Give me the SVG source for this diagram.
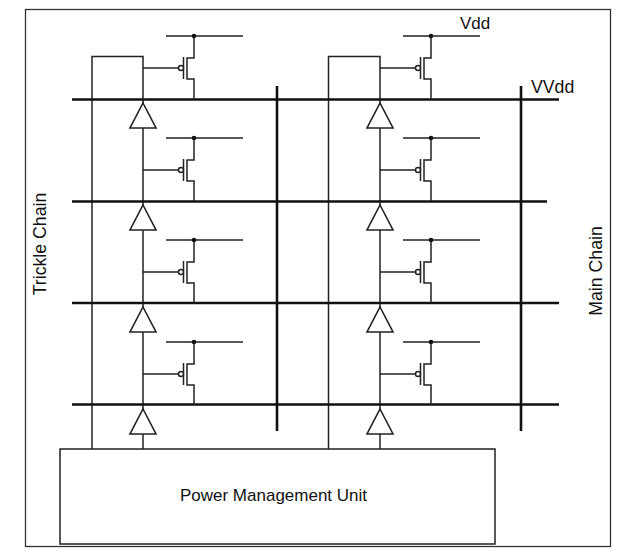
<svg xmlns="http://www.w3.org/2000/svg" xmlns:xlink="http://www.w3.org/1999/xlink" width="621" height="557" viewBox="0 0 621 557">
<style>
text{font-family:"Liberation Sans",Arial,sans-serif;font-size:17px;fill:#111}
.side{font-size:17.700px}
.t{fill:none;stroke:#222;stroke-width:1.5}
.r{fill:none;stroke:#111;stroke-width:2.6}
.b{fill:#fff;stroke:#222;stroke-width:1.6}
</style>
<defs>
<g id="pmos">
<path class="t" d="M166 36H243M194 36V58H187V79H194V99M183.500 57V79"/>
<circle cx="194" cy="36" r="2.300" fill="#111"/>
<circle cx="181" cy="68" r="2.500" fill="#fff" stroke="#222" stroke-width="1.500"/>
<path class="t" d="M143 68H178.500"/>
</g>
<path id="buf" class="b" d="M143 103L156 128H130Z"/>
</defs>
<rect id="frame" x="25.500" y="9.500" width="585" height="537" fill="#fff" stroke="#333" stroke-width="1.300"/>
<g id="connectors">
<path class="t" d="M92 449V56.500H143V449M328.500 449V56.500H380V449"/>
<path class="r" d="M72 99.500H559M72 201.500H547M72 303H559M72 404.500H559M277 86V431M521 86V431"/>
</g>
<g id="trickle-transistors">
<use href="#pmos"/>
<use href="#pmos" y="102"/>
<use href="#pmos" y="204"/>
<use href="#pmos" y="306"/>
</g>
<g id="main-transistors">
<use href="#pmos" x="237"/>
<use href="#pmos" x="237" y="102"/>
<use href="#pmos" x="237" y="204"/>
<use href="#pmos" x="237" y="306"/>
</g>
<g id="trickle-buffers">
<use href="#buf"/>
<use href="#buf" y="102"/>
<use href="#buf" y="204"/>
<use href="#buf" y="306"/>
</g>
<g id="main-buffers">
<use href="#buf" x="237"/>
<use href="#buf" x="237" y="102"/>
<use href="#buf" x="237" y="204"/>
<use href="#buf" x="237" y="306"/>
</g>
<g id="pmu">
<rect x="60" y="449" width="435" height="95" fill="#fff" stroke="#222" stroke-width="1.500"/>
<text x="273.500" y="501" text-anchor="middle">Power Management Unit</text>
</g>
<text id="vdd" x="460" y="29">Vdd</text>
<text id="vvdd" x="531" y="93" style="font-size:17.700px">VVdd</text>
<text id="trickle" class="side" transform="translate(46 244) rotate(-90)" text-anchor="middle">Trickle Chain</text>
<text id="main" class="side" transform="translate(602 271) rotate(-90)" text-anchor="middle">Main Chain</text>
</svg>
